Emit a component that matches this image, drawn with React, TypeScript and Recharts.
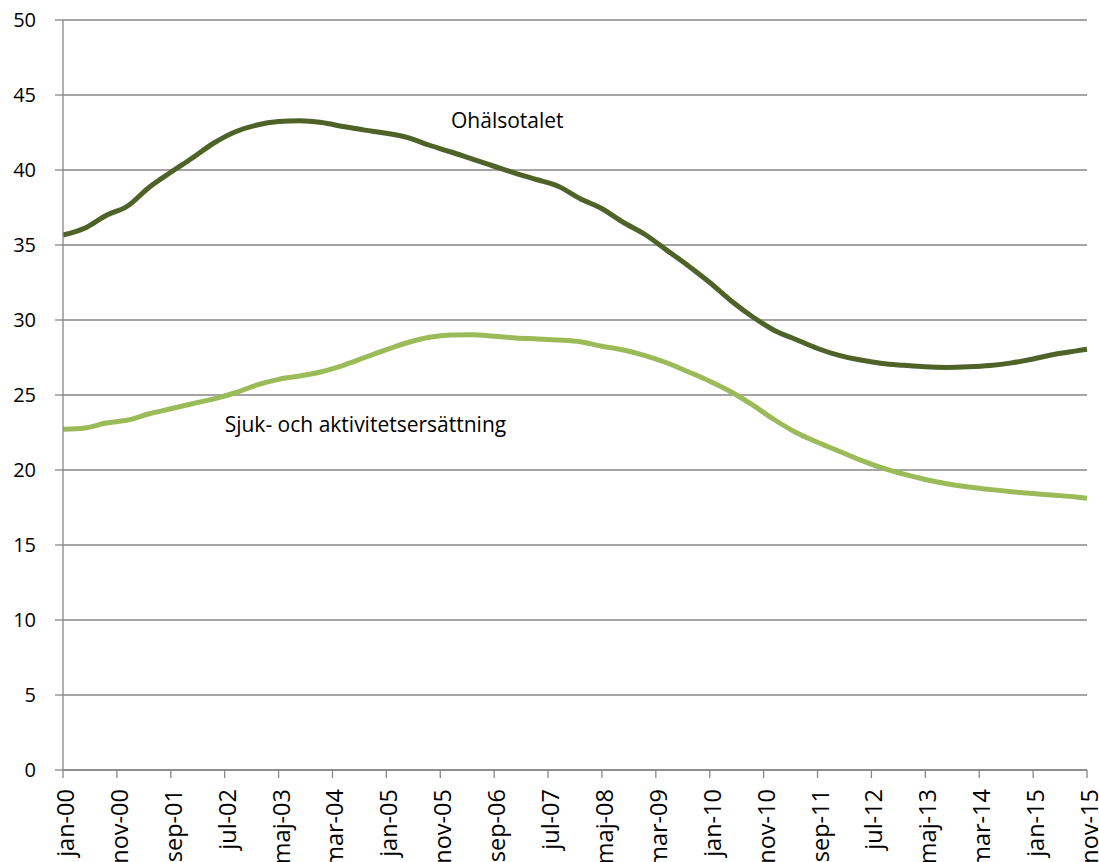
import { CartesianGrid, Line, LineChart, ReferenceDot, XAxis, YAxis } from 'recharts'

const COLORS = {
  ohalso: '#4f6228',
  sjuk: '#9bbb59',
  grid: '#878787',
  text: '#000000',
}

const FONT = '"Open Sans", "DejaVu Sans", sans-serif'

// months since jan-00
const months = [
  0, 4, 8, 12, 16, 20, 24, 28, 32, 36, 40, 44, 48, 52, 56, 60, 64, 68, 72, 76, 80, 84, 88, 92, 96, 100,
  104, 108, 112, 116, 120, 124, 128, 132, 136, 140, 144, 148, 152, 156, 160, 164, 168, 172, 176, 180,
  184, 188, 190,
]

const ohalsotalet = [
  35.67, 36.12, 36.97, 37.6, 38.85, 39.85, 40.8, 41.8, 42.55, 43.0, 43.23, 43.29, 43.16, 42.9, 42.66,
  42.45, 42.16, 41.65, 41.2, 40.72, 40.25, 39.78, 39.35, 38.9, 38.08, 37.42, 36.5, 35.7, 34.66, 33.62,
  32.5, 31.27, 30.2, 29.3, 28.7, 28.1, 27.64, 27.33, 27.1, 26.98, 26.88, 26.84, 26.88, 26.97, 27.14,
  27.4, 27.72, 27.94, 28.05,
]

const sjukAktivitet = [
  22.71, 22.8, 23.13, 23.33, 23.75, 24.08, 24.42, 24.74, 25.15, 25.67, 26.04, 26.27, 26.55, 26.98, 27.5,
  28.02, 28.5, 28.85, 29.0, 29.02, 28.92, 28.8, 28.74, 28.67, 28.55, 28.25, 28.0, 27.63, 27.15, 26.55,
  25.92, 25.2, 24.32, 23.35, 22.5, 21.85, 21.25, 20.66, 20.14, 19.72, 19.37, 19.08, 18.86, 18.7, 18.55,
  18.43, 18.32, 18.2, 18.12,
]

const tickMonths = [0, 10, 20, 30, 40, 50, 60, 70, 80, 90, 100, 110, 120, 130, 140, 150, 160, 170, 180, 190]
const tickLabels = [
  'jan-00', 'nov-00', 'sep-01', 'jul-02', 'maj-03', 'mar-04', 'jan-05', 'nov-05', 'sep-06', 'jul-07',
  'maj-08', 'mar-09', 'jan-10', 'nov-10', 'sep-11', 'jul-12', 'maj-13', 'mar-14', 'jan-15', 'nov-15',
]

const yTicks = [0, 5, 10, 15, 20, 25, 30, 35, 40, 45, 50]

const chartData = months.map((m, i) => ({
  month: m,
  ohalso: ohalsotalet[i],
  sjuk: sjukAktivitet[i],
}))

function MonthTick(props: { x?: number; y?: number; payload?: { value: number } }) {
  const { x = 0, y = 0, payload } = props
  const idx = tickMonths.indexOf(payload?.value ?? -1)
  return (
    <g transform={`translate(${x},${y})`}>
      <text
        transform="rotate(-90)"
        textAnchor="end"
        dy={11}
        fill={COLORS.text}
        fontSize={23.5}
        fontFamily={FONT}
      >
        {idx >= 0 ? tickLabels[idx] : ''}
      </text>
    </g>
  )
}

function seriesLabel(text: string) {
  return (props: { cx?: number; cy?: number }) => (
    <text x={props.cx} y={props.cy} fill={COLORS.text} fontSize={21} fontFamily={FONT}>
      {text}
    </text>
  )
}

export default function App() {
  return (
    <div style={{ position: 'absolute', left: 0, top: 0, background: '#fff' }}>
      <LineChart width={1099} height={862} data={chartData} margin={{ top: 20, right: 12, left: 0, bottom: 0 }}>
        <CartesianGrid vertical={false} stroke={COLORS.grid} strokeWidth={1.3} />
        <XAxis
          dataKey="month"
          type="number"
          domain={[0, 190]}
          ticks={tickMonths}
          interval={0}
          height={92}
          tickSize={8}
          tickMargin={11}
          axisLine={{ stroke: COLORS.grid, strokeWidth: 1.3 }}
          tickLine={{ stroke: COLORS.grid, strokeWidth: 1.3 }}
          tick={<MonthTick />}
        />
        <YAxis
          type="number"
          domain={[0, 50]}
          ticks={yTicks}
          interval={0}
          width={63}
          tickSize={8}
          tickMargin={19}
          axisLine={{ stroke: COLORS.grid, strokeWidth: 1.3 }}
          tickLine={{ stroke: COLORS.grid, strokeWidth: 1.3 }}
          tick={{ fill: COLORS.text, fontSize: 20, fontFamily: FONT }}
        />
        <Line
          type="monotone"
          dataKey="ohalso"
          stroke={COLORS.ohalso}
          strokeWidth={5}
          dot={false}
          isAnimationActive={false}
        />
        <Line
          type="monotone"
          dataKey="sjuk"
          stroke={COLORS.sjuk}
          strokeWidth={5}
          dot={false}
          isAnimationActive={false}
        />
        <ReferenceDot x={72} y={42.8} r={0} shape={seriesLabel('Ohälsotalet')} />
        <ReferenceDot x={30} y={22.55} r={0} shape={seriesLabel('Sjuk- och aktivitetsersättning')} />
      </LineChart>
    </div>
  )
}
